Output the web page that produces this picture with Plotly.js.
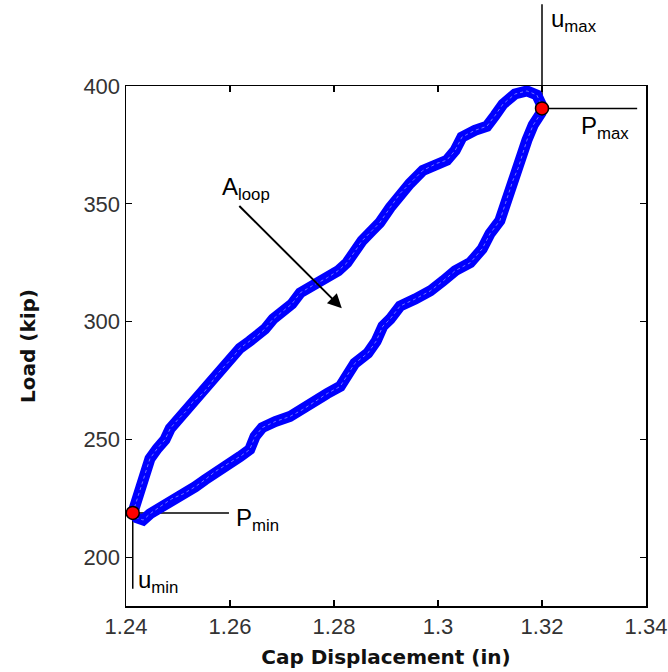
<!DOCTYPE html>
<html>
<head>
<meta charset="utf-8">
<script src="https://cdn.plot.ly/plotly-3.0.1.min.js"></script>
<style>html,body{margin:0;padding:0;background:#fff;}#chart{width:668px;height:672px;}</style>
</head>
<body>
<div id="chart"></div>
<script>
// Loading branch (upper-left), from Pmin up to Pmax
const upperX = [1.2413,1.2423,1.2433,1.2440,1.2446,1.2460,1.2475,1.2485,1.2500,1.2515,1.2529,1.2548,1.2562,1.2575,1.2590,1.2604,1.2619,1.2638,1.2654,1.2667,1.2683,1.2702,1.2719,1.2735,1.2758,1.2787,1.2808,1.2825,1.2840,1.2854,1.2873,1.2888,1.2908,1.2927,1.2946,1.2971,1.2998,1.3017,1.3033,1.3046,1.3071,1.3094,1.3110,1.3125,1.3148,1.3171,1.3190,1.3200];
const upperY = [218.8,225.6,232.0,237.1,241.8,246.1,249.9,254.6,258.5,261.9,266.1,269.5,273.4,277.6,281.0,284.5,288.7,291.7,294.3,296.8,301.1,304.5,307.5,312.2,315.2,318.6,321.6,325.0,330.1,334.3,338.6,342.0,348.4,354.4,358.6,364.2,367.2,368.5,372.7,378.3,381.2,382.9,387.6,392.3,396.6,397.9,396.2,391.5];
// Unloading branch (lower-right), from Pmax back down to Pmin
const lowerX = [1.3198,1.3183,1.3171,1.3162,1.3154,1.3144,1.3138,1.3129,1.3119,1.3100,1.3085,1.3062,1.3033,1.3010,1.2985,1.2956,1.2927,1.2908,1.2894,1.2881,1.2865,1.2840,1.2825,1.2812,1.2787,1.2763,1.2740,1.2715,1.2687,1.2662,1.2648,1.2638,1.2619,1.2596,1.2571,1.2552,1.2533,1.2510,1.2488,1.2465,1.2446,1.2433,1.2421,1.2413];
const lowerY = [388.5,383.4,377.0,370.6,365.0,359.9,355.7,349.3,342.9,337.3,330.9,325.0,321.6,317.3,313.0,309.6,306.6,301.1,298.1,291.7,286.6,282.3,276.8,272.5,269.5,266.1,262.7,259.7,257.6,255.0,251.2,245.7,242.7,239.7,236.3,232.9,229.9,226.9,224.8,221.4,218.4,215.8,216.7,218.8];
// Extreme points (Pmax / Pmin)
const pointX = [1.3200, 1.2413];
const pointY = [390.5, 218.8];
const xTicks = [1.24,1.26,1.28,1.3,1.32,1.34];
const xTickText = ['1.24','1.26','1.28','1.3','1.32','1.34'];
const yTicks = [200,250,300,350,400];
const xRange = [1.24, 1.34];
const yRange = [179.3, 400];

const loopX = upperX.concat(lowerX);
const loopY = upperY.concat(lowerY);

const yPaper = v => (v - yRange[0]) / (yRange[1] - yRange[0]);

const traces = [
  {x: loopX, y: loopY, mode: 'lines', line: {color: '#0000ff', width: 11, shape: 'linear'}, hoverinfo: 'skip', showlegend: false},
  {x: loopX, y: loopY, mode: 'lines', line: {color: '#ffffff', width: 1, dash: 'dot'}, opacity: 0.45, hoverinfo: 'skip', showlegend: false},
  {x: pointX, y: pointY, mode: 'markers', marker: {color: '#ff0000', size: 13, line: {color: '#000', width: 1.5}}, cliponaxis: false, showlegend: false}
];

const annFont = {family: 'Liberation Sans, Arial, sans-serif', size: 24, color: '#000'};
const titleFont = {family: 'DejaVu Sans, sans-serif', size: 20, color: '#111', weight: 'bold'};
const tickFont = {family: 'Liberation Sans, Arial, sans-serif', size: 22, color: '#333'};

const layout = {
  width: 668, height: 672,
  margin: {l: 126, r: 22, t: 86, b: 66},
  paper_bgcolor: '#fff', plot_bgcolor: '#fff',
  showlegend: false,
  xaxis: {
    range: xRange, tickvals: xTicks, ticktext: xTickText,
    ticks: 'inside', ticklen: 6, tickcolor: '#000', tickwidth: 1.2,
    showline: true, linecolor: '#000', linewidth: 1.5, mirror: 'ticks',
    showgrid: false, zeroline: false,
    tickfont: tickFont,
    title: {text: 'Cap Displacement (in)', font: titleFont, standoff: 12}
  },
  yaxis: {
    range: yRange, tickvals: yTicks,
    ticks: 'inside', ticklen: 6, tickcolor: '#000', tickwidth: 1.2,
    showline: true, linecolor: '#000', linewidth: 1.5, mirror: 'ticks',
    showgrid: false, zeroline: false,
    tickfont: tickFont,
    title: {text: 'Load (kip)', font: titleFont, standoff: 42}
  },
  shapes: [
    {type: 'line', xref: 'x', yref: 'paper', x0: pointX[0], x1: pointX[0], y0: yPaper(pointY[0]), y1: 1.157, line: {color: '#000', width: 1.5}, layer: 'below'},
    {type: 'line', xref: 'x', yref: 'y', x0: pointX[0], x1: 1.3383, y0: pointY[0], y1: pointY[0], line: {color: '#000', width: 1.5}, layer: 'below'},
    {type: 'line', xref: 'x', yref: 'y', x0: pointX[1], x1: 1.2598, y0: pointY[1], y1: pointY[1], line: {color: '#000', width: 1.5}, layer: 'below'},
    {type: 'line', xref: 'x', yref: 'y', x0: pointX[1], x1: pointX[1], y0: pointY[1], y1: 186.6, line: {color: '#000', width: 1.5}, layer: 'below'}
  ],
  annotations: [
    {xref: 'x', yref: 'paper', x: 1.3214, y: 1.126, xanchor: 'left', yanchor: 'middle', text: 'u<sub>max</sub>', showarrow: false, font: annFont},
    {xref: 'x', yref: 'y', x: 1.3272, y: 382.5, xanchor: 'left', yanchor: 'middle', text: 'P<sub>max</sub>', showarrow: false, font: annFont},
    {xref: 'x', yref: 'y', x: 1.2608, y: 216.2, xanchor: 'left', yanchor: 'middle', text: 'P<sub>min</sub>', showarrow: false, font: annFont},
    {xref: 'x', yref: 'y', x: 1.2420, y: 189.5, xanchor: 'left', yanchor: 'middle', text: 'u<sub>min</sub>', showarrow: false, font: annFont},
    {xref: 'x', yref: 'y', x: 1.2580, y: 356.5, xanchor: 'left', yanchor: 'middle', text: 'A<sub>loop</sub>', showarrow: false, font: annFont},
    {xref: 'x', yref: 'y', axref: 'x', ayref: 'y', x: 1.2815, y: 305.7, ax: 1.2615, ay: 349.7, text: '', showarrow: true, arrowhead: 2, arrowsize: 1.4, arrowwidth: 2, arrowcolor: '#000'}
  ]
};

Plotly.newPlot('chart', traces, layout, {displayModeBar: false, staticPlot: true});
</script>
</body>
</html>
